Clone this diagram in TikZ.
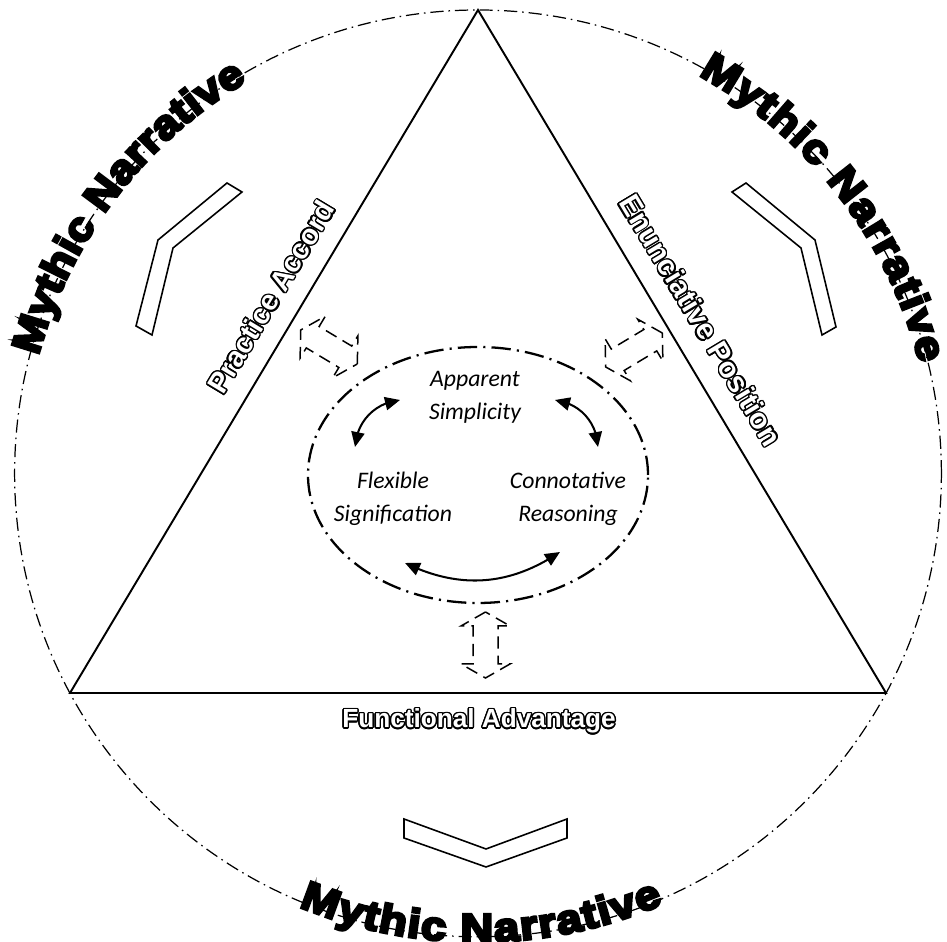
\documentclass[tikz,border=0pt]{standalone}
\usepackage{fontspec}
\usetikzlibrary{arrows.meta,decorations.text,bending}
\newfontfamily\carl{Carlito}
\newfontfamily\lsans{Liberation Sans}
\newfontfamily\heavy[FakeBold=7,FakeStretch=1.12]{Liberation Sans Bold}

% hollow lettering: black copies around a white copy
\newlength\hollowrad
\setlength\hollowrad{0.8pt}
\newcommand\hollowtext[1]{{%
  \setbox0=\hbox{#1}%
  \def\hcp##1##2{\rlap{\kern##1\hollowrad\raise##2\hollowrad\hbox{\color{black}\copy0}}}%
  \hcp{1}{0}\hcp{0.924}{0.383}\hcp{0.707}{0.707}\hcp{0.383}{0.924}%
  \hcp{0}{1}\hcp{-0.383}{0.924}\hcp{-0.707}{0.707}\hcp{-0.924}{0.383}%
  \hcp{-1}{0}\hcp{-0.924}{-0.383}\hcp{-0.707}{-0.707}\hcp{-0.383}{-0.924}%
  \hcp{0}{-1}\hcp{0.383}{-0.924}\hcp{0.707}{-0.707}\hcp{0.924}{-0.383}%
  \hbox{\color{white}\copy0}}}

\tikzset{
  pics/blockarrow/.style={code={
    \draw[blockline] (33,0) -- (19,24.5) -- (19,12.5) -- (-19,12.5) -- (-19,24.5)
      -- (-33,0) -- (-19,-24.5) -- (-19,-12.5) -- (19,-12.5) -- (19,-24.5) -- cycle;}}
}

\begin{document}
\begin{tikzpicture}[x=0.02cm,y=0.02cm,
  ring/.style={line width=0.7pt, dash pattern=on 7.5pt off 2.8pt on 0.9pt off 2.8pt},
  tri/.style={line width=1.1pt, line join=miter},
  core/.style={line width=1.3pt, dash pattern=on 11pt off 3.5pt on 1.2pt off 3.5pt},
  chev/.style={line width=0.9pt, line join=miter},
  blockline/.style={line width=0.85pt, dash pattern=on 7pt off 4pt},
  cyc/.style={line width=1.15pt, {Triangle[length=8.5pt,width=7.5pt]}-{Triangle[length=8.5pt,width=7.5pt]}},
  idea/.style={font=\carl\itshape\fontsize{13.5pt}{19pt}\selectfont, align=center, inner sep=0pt},
  hollow/.style={font=\lsans\bfseries\fontsize{#1}{18pt}\selectfont, inner sep=0pt}
]
\useasboundingbox (0,0) rectangle (947,942);
\fill[white] (0,0) rectangle (947,942);

% outer ring and triangle
\coordinate (c) at (478,468.6);
\coordinate (apex) at (478,932);
\coordinate (bl) at (70,249);
\coordinate (br) at (886,249);
\draw[ring] (c) circle[radius=463.4];
\draw[tri] (apex) -- (bl) -- (br) -- cycle;

% lettering along the ring
\path[decorate, decoration={text along path, text align=fit to path, raise=-4.7pt,
  text={|\heavy\fontsize{23pt}{27pt}\selectfont|Mythic Narrative}}]
  (c) ++(165:463.4) arc[start angle=165, end angle=120.5, radius=463.4];
\path[decorate, decoration={text along path, text align=fit to path, raise=-4.7pt,
  text={|\heavy\fontsize{23pt}{27pt}\selectfont|Mythic Narrative}}]
  (c) ++(61:463.4) arc[start angle=61, end angle=14, radius=463.4];
\path[decorate, decoration={text along path, text align=fit to path, raise=-3pt,
  text={|\heavy\fontsize{23pt}{27pt}\selectfont|Mythic Narrative}}]
  (c) ++(247.5:463.4) arc[start angle=247.5, end angle=293.3, radius=463.4];

% chevrons
\draw[chev] (227,759) -- (242,750) -- (173,694) -- (152,607) -- (136,616) -- (158,702) -- cycle;
\draw[chev] (746,759) -- (732,750) -- (801,694) -- (822,607) -- (836,615) -- (815,702) -- cycle;
\draw[chev] (404,123) -- (486,93) -- (567,123) -- (567,104) -- (486,75) -- (404,104) -- cycle;

% side labels
\node[hollow=16.3pt, rotate=59] (accord) at (271,645) {\hollowtext{Practice Accord}};
\node[hollow=16.6pt, rotate=-59] (position) at (701,622) {\hollowtext{Enunciative Position}};
\node[hollow=14.9pt] (advantage) at (479,221) {\hollowtext{Functional Advantage}};

% dashed double block arrows
\pic[rotate=-31] (leftlink) at (329,595) {blockarrow};
\pic[rotate=31] (rightlink) at (634,592) {blockarrow};
\pic[rotate=90] (baselink) at (485.5,297) {blockarrow};

% inner cycle
\coordinate (e) at (478,467);
\draw[core] (e) ellipse[x radius=170, y radius=128];
\node[idea] (simp) at (475,544.5) {Apparent\\Simplicity};
\node[idea] (flex) at (393,443) {Flexible\\Signification};
\node[idea] (conn) at (568,443) {Connotative\\Reasoning};

\coordinate (fs1) at (355,495);
\coordinate (as1) at (400,542);
\coordinate (as2) at (555,542);
\coordinate (cr1) at (598,495);
\coordinate (fs2) at (405,379);
\coordinate (cr2) at (560,390);
\draw[cyc] (fs1) to[bend left=40] (as1);
\draw[cyc] (as2) to[bend left=40] (cr1);
\draw[cyc] (fs2) to[bend right=30] (cr2);
\end{tikzpicture}
\end{document}
